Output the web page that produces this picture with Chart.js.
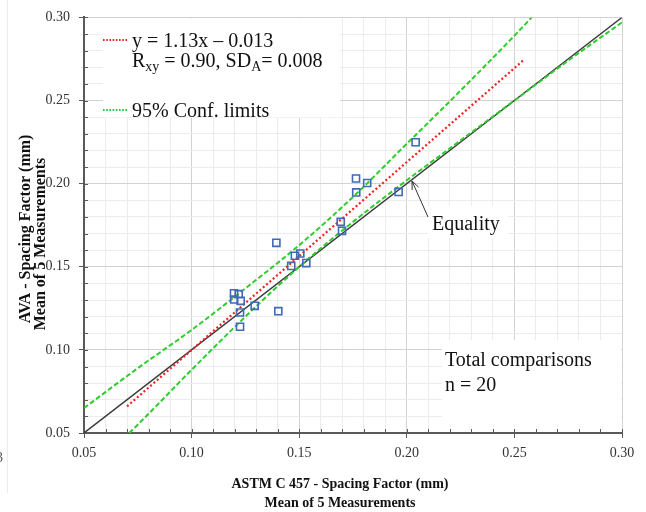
<!DOCTYPE html>
<html lang="en">
<head>
<meta charset="UTF-8">
<title>AVA vs ASTM C 457 Spacing Factor</title>
<script src="https://cdn.jsdelivr.net/npm/chart.js"></script>
<style>
  html, body { margin: 0; padding: 0; background: #fff; }
  #wrap { width: 646px; height: 512px; }
</style>
</head>
<body>
<div id="wrap"><canvas id="spacingChart" width="646" height="512"></canvas></div>
<script>
// ASTM C 457 mean spacing factor (mm) and matching AVA mean (mm)
const astmMean = [0.1394, 0.1480, 0.1505, 0.1463, 0.1533, 0.1197, 0.1219, 0.1198, 0.1228, 0.1293,
                  0.1225, 0.1403, 0.1225, 0.2041, 0.1764, 0.1816, 0.1765, 0.1962, 0.1693, 0.1699];
const avaMean  = [0.1644, 0.1566, 0.1580, 0.1505, 0.1522, 0.1340, 0.1335, 0.1303, 0.1295, 0.1265,
                  0.1225, 0.1233, 0.1139, 0.2249, 0.2031, 0.2004, 0.1947, 0.1950, 0.1770, 0.1716];

// line of equality
const equalX = [0.05, 0.30];
const equalY = [0.05, 0.30];

// fitted line y = 1.13x - 0.013
const fitX = [0.070, 0.254];
const fitY = [0.066, 0.274];

// 95% confidence limits
const upperX = [0.050, 0.075, 0.100, 0.125, 0.150, 0.175, 0.200, 0.225, 0.250, 0.258];
const upperY = [0.065, 0.089, 0.112, 0.137, 0.163, 0.192, 0.224, 0.256, 0.289, 0.300];
const lowerX = [0.071, 0.075, 0.100, 0.125, 0.150, 0.175, 0.200, 0.225, 0.250, 0.275, 0.300];
const lowerY = [0.050, 0.055, 0.088, 0.120, 0.150, 0.177, 0.202, 0.226, 0.250, 0.274, 0.297];

const axisMin = 0.05, axisMax = 0.30, axisStep = 0.01;

const toPoints = (xs, ys) => xs.map((x, i) => ({ x: x, y: ys[i] }));
const isMajor = v => Math.abs(v * 20 - Math.round(v * 20)) < 1e-6;

const serif = "'Liberation Serif', 'Times New Roman', serif";
const axisDark = '#595959';
const redDot = '#ee2222';
const greenDash = '#2ecc2e';

// text, white label boxes, inner ticks and the arrow
const decorPlugin = {
  id: 'decor',
  beforeDatasetsDraw(chart) {
    const ctx = chart.ctx;
    const a = chart.chartArea;
    ctx.save();
    ctx.fillStyle = '#fff';
    ctx.fillRect(103, a.top + 1, 237, 99);
    ctx.fillRect(442, 340, a.right - 442 - 1, a.bottom - 340 - 1);
    ctx.fillRect(428, 206, 80, 32);

    // short inner ticks on both axes
    ctx.strokeStyle = axisDark;
    ctx.lineWidth = 1;
    ctx.beginPath();
    chart.scales.x.ticks.forEach(t => {
      const px = Math.round(chart.scales.x.getPixelForValue(t.value)) + 0.5;
      ctx.moveTo(px, a.bottom);
      ctx.lineTo(px, a.bottom - 4);
    });
    chart.scales.y.ticks.forEach(t => {
      const py = Math.round(chart.scales.y.getPixelForValue(t.value)) + 0.5;
      ctx.moveTo(a.left, py);
      ctx.lineTo(a.left + 4, py);
    });
    ctx.stroke();
    ctx.restore();
  },
  afterDraw(chart) {
    const ctx = chart.ctx;
    ctx.save();
    ctx.fillStyle = '#111';
    ctx.textBaseline = 'alphabetic';

    // legend samples
    ctx.lineWidth = 2;
    ctx.setLineDash([1.6, 1.6]);
    ctx.strokeStyle = redDot;
    ctx.beginPath(); ctx.moveTo(103, 40); ctx.lineTo(127, 40); ctx.stroke();
    ctx.strokeStyle = '#22c44a';
    ctx.beginPath(); ctx.moveTo(103, 110); ctx.lineTo(127, 110); ctx.stroke();
    ctx.setLineDash([]);

    ctx.font = '20px ' + serif;
    ctx.textAlign = 'left';
    ctx.fillText('y = 1.13x \u2013 0.013', 132, 47);

    // R_xy = 0.90, SD_A = 0.008
    let x = 132;
    const big = '20px ' + serif, small = '14px ' + serif;
    const parts = [['R', big, 0], ['xy', small, 4], [' = 0.90, SD', big, 0], ['A', small, 4], ['= 0.008', big, 0]];
    parts.forEach(p => {
      ctx.font = p[1];
      ctx.fillText(p[0], x, 67 + p[2]);
      x += ctx.measureText(p[0]).width;
    });

    ctx.font = big;
    ctx.fillText('95% Conf. limits', 132, 117);
    ctx.fillText('Equality', 432, 230);
    ctx.fillText('Total comparisons', 445, 366);
    ctx.fillText('n = 20', 445, 391);

    // arrow pointing at the equality line
    const tipX = 412, tipY = 181, tailX = 428, tailY = 217;
    const ang = Math.atan2(tailY - tipY, tailX - tipX);
    ctx.strokeStyle = '#333';
    ctx.lineWidth = 1;
    ctx.beginPath();
    ctx.moveTo(tailX, tailY); ctx.lineTo(tipX, tipY);
    ctx.moveTo(tipX + 9 * Math.cos(ang - 0.4), tipY + 9 * Math.sin(ang - 0.4));
    ctx.lineTo(tipX, tipY);
    ctx.lineTo(tipX + 9 * Math.cos(ang + 0.4), tipY + 9 * Math.sin(ang + 0.4));
    ctx.stroke();

    // axis titles
    ctx.font = 'bold 14px ' + serif;
    ctx.textAlign = 'center';
    ctx.fillText('ASTM C 457 - Spacing Factor (mm)', 340, 488);
    ctx.fillText('Mean of 5 Measurements', 340, 507);

    ctx.font = 'bold 16px ' + serif;
    ctx.save();
    ctx.translate(30, 229);
    ctx.rotate(-Math.PI / 2);
    ctx.fillText('AVA - Spacing Factor (mm)', 0, 0);
    ctx.restore();
    ctx.save();
    ctx.translate(45, 244);
    ctx.rotate(-Math.PI / 2);
    ctx.fillText('Mean of 5 Measurements', 0, 0);
    ctx.restore();

    // page edge
    ctx.strokeStyle = '#ececec';
    ctx.beginPath(); ctx.moveTo(7.5, 0); ctx.lineTo(7.5, 493); ctx.stroke();
    ctx.fillStyle = '#555';
    ctx.font = '14px ' + serif;
    ctx.textAlign = 'right';
    ctx.fillText('3', 3, 462);
    ctx.restore();
  }
};

const tickFont = { family: serif, size: 14 };

function axisConfig(fit) {
  return {
    type: 'linear',
    min: axisMin,
    max: axisMax,
    afterFit: fit,
    border: { color: axisDark, width: 2 },
    grid: {
      color: c => isMajor(c.tick.value) ? '#d2d2d2' : '#ececec',
      tickColor: c => isMajor(c.tick.value) ? axisDark : 'rgba(0,0,0,0)',
      tickLength: 5,
      lineWidth: 1
    },
    ticks: {
      stepSize: axisStep,
      autoSkip: false,
      maxRotation: 0,
      font: tickFont,
      color: '#333',
      callback: v => isMajor(v) ? v.toFixed(2) : ''
    }
  };
}

const xAxis = axisConfig(scale => { scale.height = 79; });
xAxis.ticks.padding = 7;
const yAxis = axisConfig(scale => { scale.width = 84; });
yAxis.ticks.padding = 9;

new Chart(document.getElementById('spacingChart').getContext('2d'), {
  type: 'scatter',
  data: {
    datasets: [{
      label: 'Comparisons',
      data: toPoints(astmMean, avaMean),
      pointStyle: 'rect',
      pointRadius: 5,
      borderWidth: 1.6,
      borderColor: '#4169b4',
      backgroundColor: 'rgba(255,255,255,0)',
      order: 0
    }, {
      label: 'Upper limit',
      data: toPoints(upperX, upperY),
      showLine: true,
      pointRadius: 0,
      borderColor: greenDash,
      borderWidth: 2,
      borderDash: [5, 2.5],
      cubicInterpolationMode: 'monotone',
      order: 1
    }, {
      label: 'Lower limit',
      data: toPoints(lowerX, lowerY),
      showLine: true,
      pointRadius: 0,
      borderColor: greenDash,
      borderWidth: 2,
      borderDash: [5, 2.5],
      cubicInterpolationMode: 'monotone',
      order: 1
    }, {
      label: 'Fit',
      data: toPoints(fitX, fitY),
      showLine: true,
      pointRadius: 0,
      borderColor: redDot,
      borderWidth: 2.2,
      borderDash: [2, 2.4],
      order: 2
    }, {
      label: 'Equality',
      data: toPoints(equalX, equalY),
      showLine: true,
      pointRadius: 0,
      borderColor: '#3a3a3a',
      borderWidth: 1.4,
      order: 3
    }]
  },
  options: {
    responsive: false,
    animation: false,
    devicePixelRatio: 1,
    layout: { padding: { top: 17, right: 24, left: 0, bottom: 0 } },
    plugins: {
      legend: { display: false },
      tooltip: { enabled: false }
    },
    scales: { x: xAxis, y: yAxis }
  },
  plugins: [decorPlugin]
});
</script>
</body>
</html>
